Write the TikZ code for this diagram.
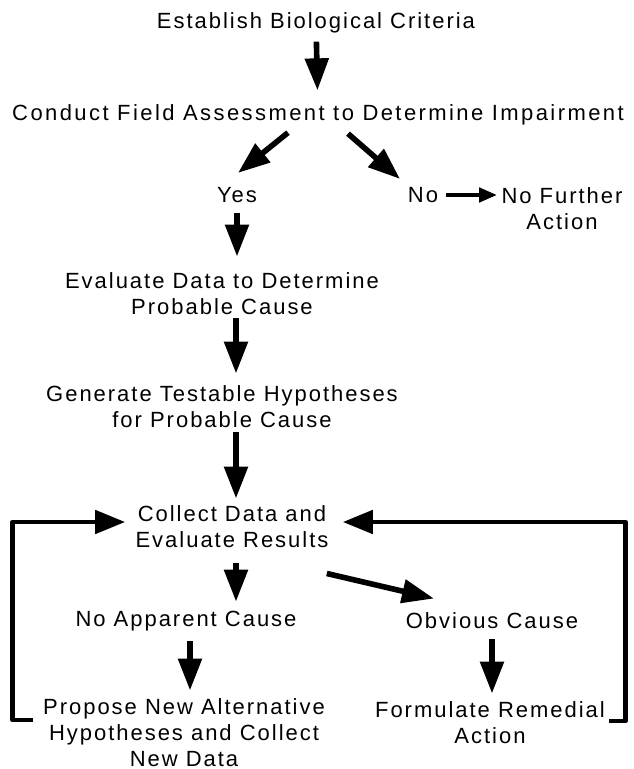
\documentclass[tikz,border=0pt]{standalone}
\usepackage{fontspec}
\newfontfamily\flowfont[LetterSpace=9]{Liberation Sans}
\usetikzlibrary{arrows.meta,calc}
\tikzset{
	step text/.style={font=\flowfont\fontsize{11pt}{13pt}\selectfont, align=center, inner sep=1pt},
	big arrow/.style={line width=2.8pt, -{Triangle[length=16pt,width=11.5pt]}},
	small arrow/.style={line width=2.2pt, -{Triangle[length=9pt,width=7pt]}},
	loop line/.style={line width=2.4pt, line join=round, -{Triangle[length=15pt,width=11.5pt]}}
}

\begin{document}
\begin{tikzpicture}[x=0.5pt,y=-0.5pt]
	\useasboundingbox (0,0) rectangle (633,769);
	\coordinate (spine) at (236,0);
%
	\node[step text] (criteria) at (316,23) {Establish Biological Criteria};
	\node[step text, font=\flowfont\fontsize{11pt}{13pt}\selectfont\addfontfeature{LetterSpace=11}] (field) at (318,115) {Conduct Field Assessment to Determine Impairment};
	\node[step text] (yes) at (237,195) {Yes};
	\node[step text] (no) at (423,195) {No};
	\node[step text] (noaction) at (562,209) {No Further\\Action};
	\node[step text] (evaluate) at (222,294) {Evaluate Data to Determine\\Probable Cause};
	\node[step text] (generate) at (222,407) {Generate Testable Hypotheses\\for Probable Cause};
	\node[step text] (collect) at (232,527) {Collect Data and\\Evaluate Results};
	\node[step text] (noapparent) at (186,621) {No Apparent Cause};
	\node[step text] (obvious) at (492,621) {Obvious Cause};
	\node[step text] (propose) at (184,733) {Propose New Alternative\\Hypotheses and Collect\\New Data};
	\node[step text] (remedial) at (490,723) {Formulate Remedial\\Action};
%
	%upper part
	\draw[big arrow, shorten <=3pt, shorten >=6pt] (criteria) -- (field);
	\draw[big arrow] ($(field.south)+(-30,5)$) -- ($(yes.north)+(1,-12)$);
	\draw[big arrow] ($(field.south)+(30,6)$) -- ($(no.north)+(-23,-6)$);
	\draw[small arrow] ($(no.east)+(6,0)$) -- ($(noaction.west |- no.east)+(-2,0)$);
%
	%left column
	\draw[big arrow, shorten <=4pt, shorten >=7pt] (yes.south) -- (yes.south |- evaluate.north);
	\draw[big arrow, shorten <=0.5pt, shorten >=5pt] (evaluate.south -| spine) -- (generate.north -| spine);
	\draw[big arrow, shorten <=1pt, shorten >=2.5pt] (generate.south -| spine) -- (collect.north -| spine);
	\draw[big arrow, shorten <=6.5pt, shorten >=3.5pt] (collect.south -| spine) -- (noapparent.north -| spine);
	\draw[big arrow] ($(collect.south east)+(-4,23)$) -- ($(obvious.north)+(-58,-12)$);
	\draw[big arrow, shorten <=4pt, shorten >=3pt] (noapparent.south -| 190,0) -- (propose.north -| 190,0);
	\draw[big arrow, shorten <=4pt, shorten >=3pt] (obvious.south) -- (obvious.south |- remedial.north);
%
	%feedback loops
	\draw[loop line] ($(propose.west)+(-8,-13)$) -- ++(-20,0) |- ($(collect.west)+(-8,-5)$);
	\draw[loop line] ($(remedial.east)+(2,-2)$) -- ++(16,0) |- ($(collect.east)+(12,-5)$);
\end{tikzpicture}
\end{document}
